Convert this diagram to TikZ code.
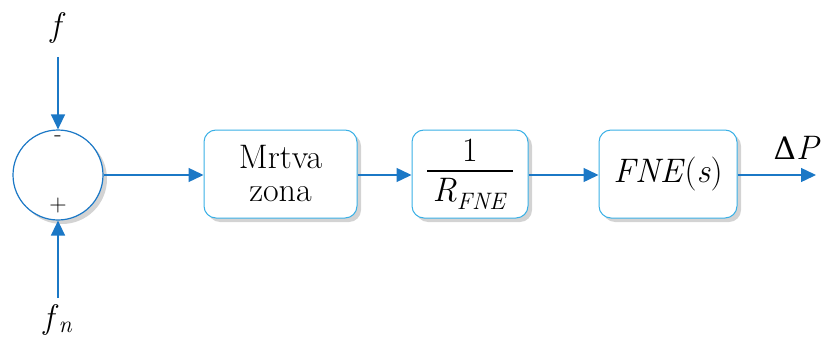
\documentclass[tikz,border=0pt]{standalone}
\usepackage{fontspec}
\newfontfamily\grk{DejaVu Serif}
\usepackage{tikz}
\usetikzlibrary{arrows.meta, positioning, shadows}
\definecolor{lineblue}{HTML}{1B78C6}
\definecolor{boxblue}{HTML}{3AB0E6}
\setlength{\arrayrulewidth}{1.3pt}
\tikzset{
  blok/.style={draw=boxblue, line width=1pt, rounded corners=12pt, fill=white,
    minimum height=88pt, align=center, inner sep=0pt,
    drop shadow={shadow xshift=4pt, shadow yshift=-4pt, opacity=0.35}},
  sumator/.style={draw=lineblue, line width=1.2pt, circle, fill=white, minimum size=90pt,
    inner sep=0pt, drop shadow={shadow xshift=4pt, shadow yshift=-4pt, opacity=0.35}},
  veza/.style={draw=lineblue, line width=1.4pt, -{Triangle[length=15pt,width=14pt]}},
}
\begin{document}
\begin{tikzpicture}[x=1pt, y=-1pt, font=\fontsize{34}{37}\selectfont]
    \useasboundingbox (0,0) rectangle (821,345);
    % sabirac i blokovi
    \node[sumator] (sum) at (58,175) {};
    \node[font=\fontsize{24}{26}\selectfont] (minus) at (58,139) {-};
    \node[font=\fontsize{24}{26}\selectfont] (plus) at (58,206) {+};
    \node[blok, minimum width=153pt] (mz) at (280.5,174) {Mrtva\\[-4pt]zona};
    \node[blok, minimum width=116pt] (rfne) at (470,174)
        {\begin{tabular}{@{\,}c@{\,}}1\\[-2pt]\hline\rule{0pt}{30pt}\textit{R}\textsubscript{\textit{FNE}}\end{tabular}};
    \node[blok, minimum width=138pt] (fne) at (668,174) {\textit{FNE}(\textit{s})};
    % ulazi i izlaz
    \node (f) at (58,28) {\textit{f}};
    \node (fn) at (58,320) {\textit{f}\textsubscript{\textit{n}}};
    \coordinate (fpoc) at (58,57);
    \coordinate (fnpoc) at (58,298);
    \coordinate (izlaz) at (816,175);
    \node (dp) at (797,148) {{\grk\fontsize{31}{34}\selectfont Δ}\textit{P}};
    \draw[veza] (fpoc) -- (sum.north);
    \draw[veza] (fnpoc) -- (sum.south);
    \draw[veza] (sum.east) -- (mz.west |- sum.east);
    \draw[veza] (mz.east |- sum.east) -- (rfne.west |- sum.east);
    \draw[veza] (rfne.east |- sum.east) -- (fne.west |- sum.east);
    \draw[veza] (fne.east |- sum.east) -- (izlaz);
\end{tikzpicture}
\end{document}
